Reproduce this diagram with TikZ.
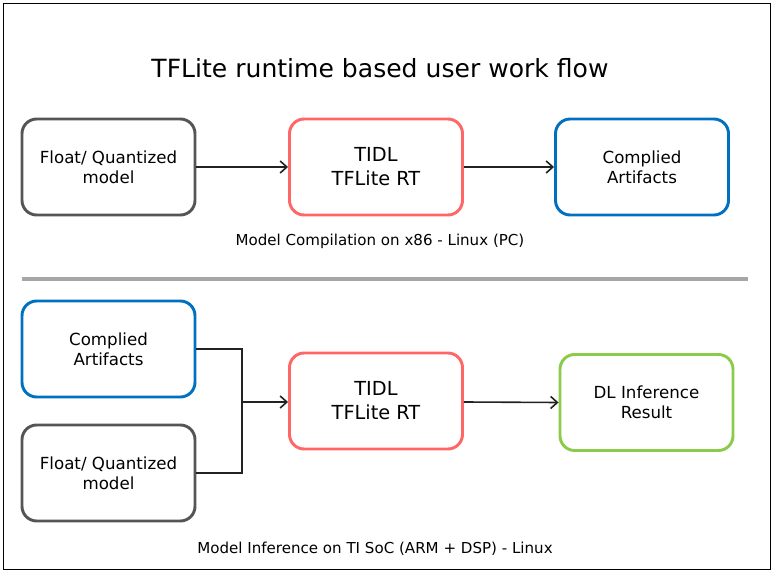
\documentclass[tikz,border=0pt]{standalone}
\usepackage{fontspec}
\setmainfont{DejaVu Sans}
\usetikzlibrary{arrows.meta,positioning}
\definecolor{cgray}{HTML}{555555}
\definecolor{cred}{HTML}{FF6666}
\definecolor{cblue}{HTML}{0070C0}
\definecolor{cgreen}{HTML}{8CCB4A}
\definecolor{csep}{HTML}{A6A6A6}
\definecolor{cline}{HTML}{222222}
\tikzset{
  box/.style={draw, rounded corners=11pt, line width=2.2pt, minimum width=129.75pt, minimum height=72pt, align=center, inner sep=0pt, fill=white},
  graybox/.style={box, draw=cgray, font=\fontsize{12.5}{15}\selectfont},
  bluebox/.style={box, draw=cblue, font=\fontsize{12.5}{15}\selectfont},
  greenbox/.style={box, draw=cgreen, font=\fontsize{12.5}{15}\selectfont},
  redbox/.style={box, draw=cred, font=\fontsize{14.5}{18}\selectfont},
  conn/.style={draw=cline, line width=1.2pt},
  arr/.style={conn, -{Straight Barb[length=5pt,width=9pt,line width=1.2pt]}},
  caption/.style={font=\fontsize{11.3}{13}\selectfont},
}
\begin{document}
\begin{tikzpicture}[x=0.75pt,y=-0.75pt]
\useasboundingbox (0,0) rectangle (774,573);
\draw[line width=0.75pt] (3.5,3.5) rectangle (770.5,569.5);
\node[font=\fontsize{18.8}{22}\selectfont] (title) at (380,68) {TFLite runtime based user work flow};
% top row
\node[graybox] (fq1) at (108.5,167) {Float/ Quantized\\model};
\node[redbox] (rt1) at (376,167) {TIDL\\TFLite RT};
\node[bluebox] (ca1) at (642,167) {Complied\\Artifacts};
\node[caption] (cap1) at (380,241) {Model Compilation on x86 - Linux (PC)};
\draw[arr] (fq1.east) -- (rt1.west);
\draw[arr] (rt1.east) -- (ca1.west);
% separator
\coordinate (sepL) at (22,279);
\coordinate (sepR) at (748,279);
\draw[draw=csep, line width=2.4pt] (sepL) -- (sepR);
% bottom row
\node[bluebox] (ca2) at (108.5,349) {Complied\\Artifacts};
\node[graybox] (fq2) at (108.5,473) {Float/ Quantized\\model};
\node[redbox] (rt2) at (376,401) {TIDL\\TFLite RT};
\node[greenbox] (dl) at (646.5,402.5) {DL Inference\\Result};
\node[caption] (cap2) at (375,549) {Model Inference on TI SoC (ARM + DSP) - Linux};
\coordinate (j) at (242,402);
\draw[conn] (ca2.east) -| (j);
\draw[conn] (fq2.east) -| (j);
\draw[arr] (j) -- (rt2.west |- j);
\draw[arr] (rt2.east |- j) -- (dl.west);
\end{tikzpicture}
\end{document}
